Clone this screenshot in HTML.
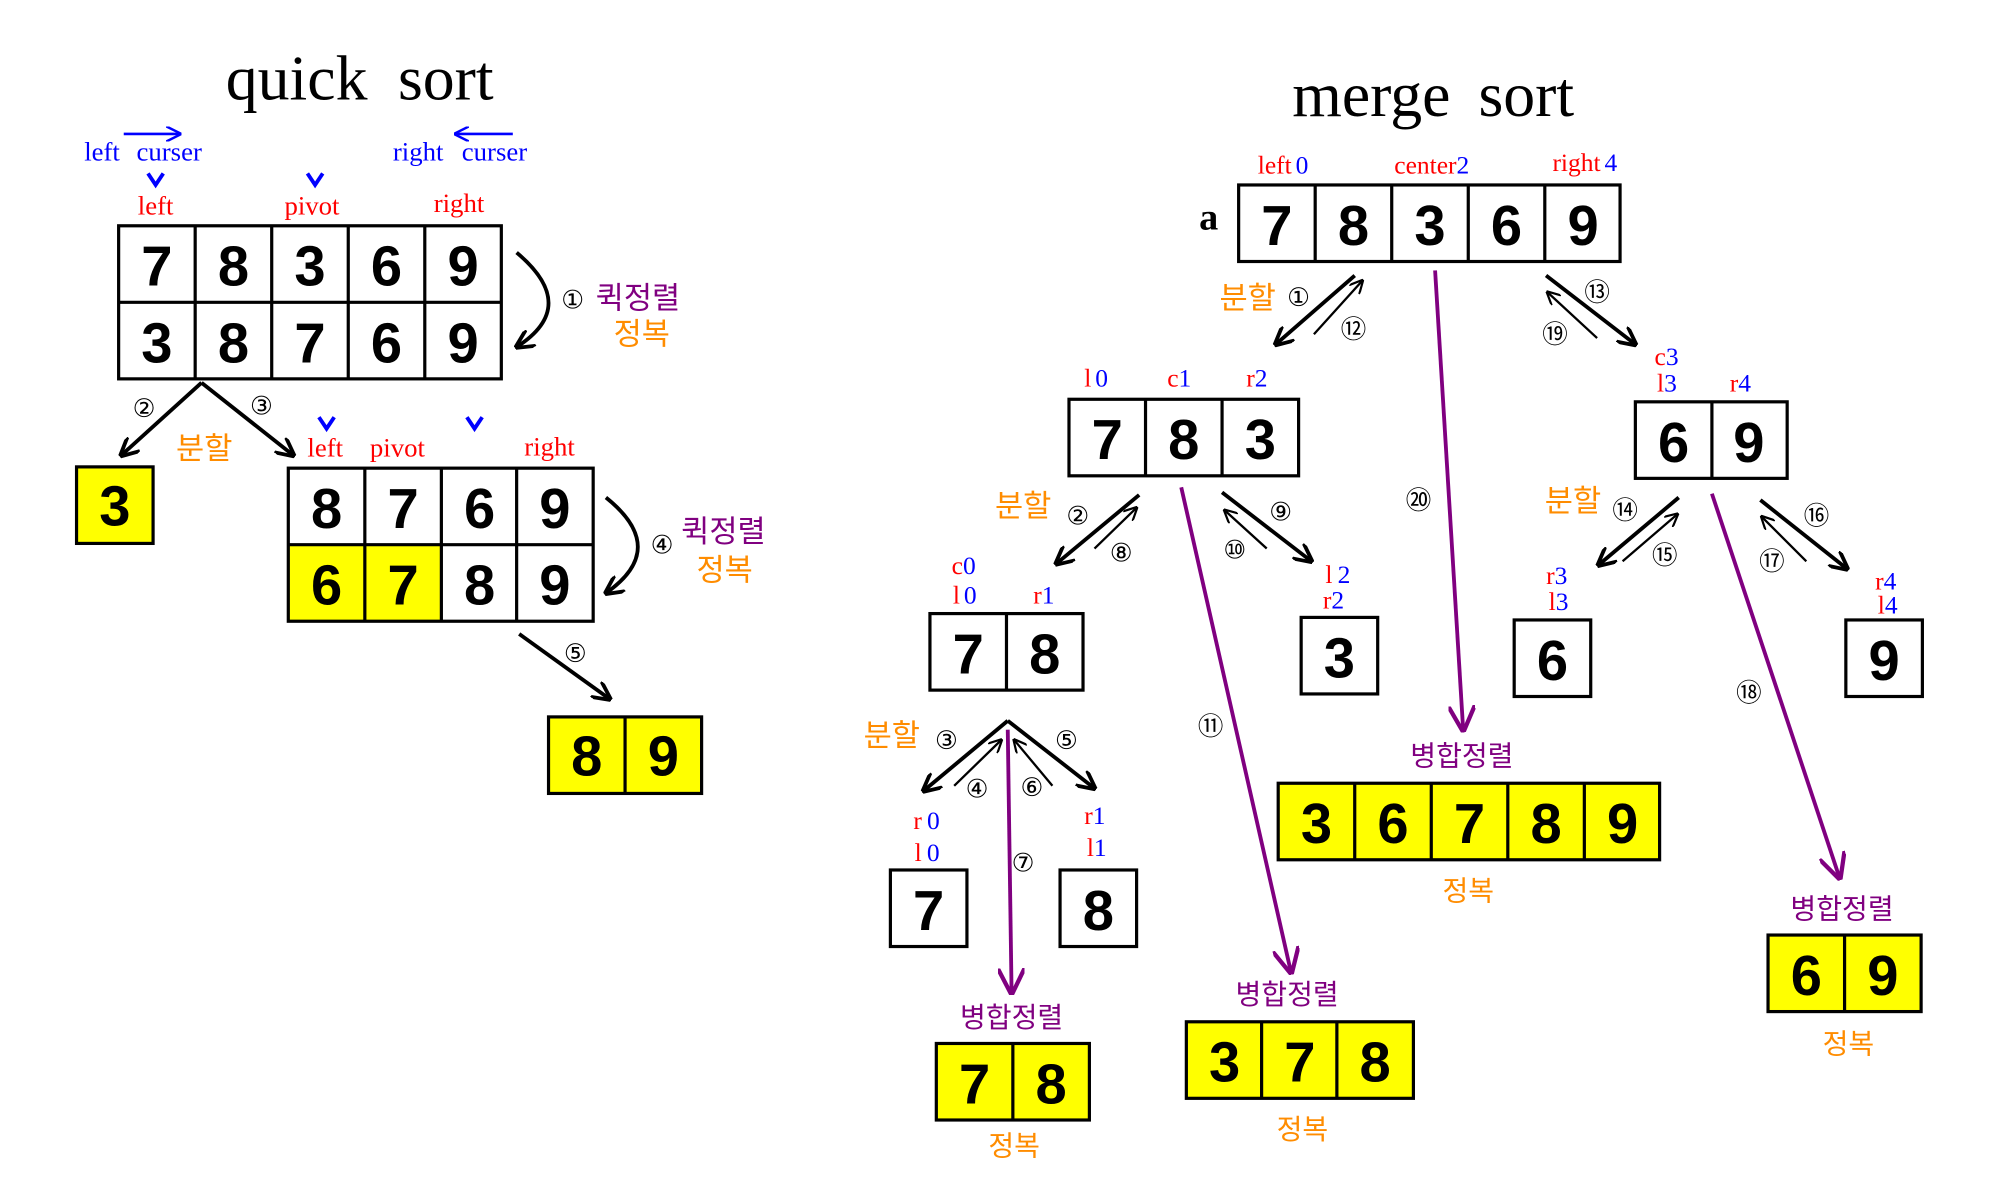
<!DOCTYPE html>
<html><head><meta charset="utf-8">
<style>
html,body{margin:0;padding:0;background:#fff;}
svg{display:block}
.t{font-family:"Liberation Serif","Noto Sans CJK KR",serif;}
.k{font-family:"Liberation Sans","Noto Sans CJK KR","NanumGothic",sans-serif;}
.c{font-family:"DejaVu Sans","Liberation Sans",sans-serif;font-size:20px;}
.d{font-family:"Liberation Sans",sans-serif;font-weight:bold;font-size:44px;text-anchor:middle;}
.r{fill:#f00}.b{fill:#00f}.o{fill:#ff8c00}.p{fill:#800080}
</style></head><body>
<svg width="1990" height="1188" viewBox="0 0 1560 931.3" xmlns="http://www.w3.org/2000/svg">
<defs>
<marker id="ah" viewBox="0 0 10 10" refX="9" refY="5" markerWidth="5" markerHeight="5" orient="auto" markerUnits="strokeWidth"><path d="M0,0 L10,5 L0,10" fill="none" stroke="#000" stroke-width="2"/></marker>
<marker id="at" viewBox="0 0 10 10" refX="9" refY="5" markerWidth="6" markerHeight="6" orient="auto" markerUnits="strokeWidth"><path d="M0,0 L10,5 L0,10" fill="none" stroke="#000" stroke-width="1.6"/></marker>
<marker id="ap" viewBox="0 0 10 10" refX="9" refY="5" markerWidth="7" markerHeight="7" orient="auto" markerUnits="strokeWidth"><path d="M0,0 L10,5 L0,10" fill="none" stroke="#800080" stroke-width="1.6"/></marker>
<marker id="ab" viewBox="0 0 10 10" refX="9" refY="5" markerWidth="6" markerHeight="6" orient="auto" markerUnits="strokeWidth"><path d="M0,0 L10,5 L0,10" fill="none" stroke="#00f" stroke-width="1.6"/></marker>
</defs>
<g stroke="#000" stroke-width="2.5" fill="none">
<rect x="93" y="177" width="300" height="120"/>
<line x1="93" y1="237" x2="393" y2="237"/>
<line x1="153" y1="177" x2="153" y2="297"/><line x1="213" y1="177" x2="213" y2="297"/><line x1="273" y1="177" x2="273" y2="297"/><line x1="333" y1="177" x2="333" y2="297"/>
<rect x="60" y="366" width="60" height="60" fill="#ff0"/>
<rect x="226" y="427" width="120" height="60" fill="#ff0" stroke="none"/>
<rect x="226" y="367" width="239" height="120"/>
<line x1="226" y1="427" x2="465" y2="427"/>
<line x1="286" y1="367" x2="286" y2="487"/><line x1="346" y1="367" x2="346" y2="487"/><line x1="405" y1="367" x2="405" y2="487"/>
<rect x="430" y="562" width="120" height="60" fill="#ff0"/><line x1="490" y1="562" x2="490" y2="622"/>
<rect x="971" y="145" width="299" height="60"/>
<line x1="1031" y1="145" x2="1031" y2="205"/><line x1="1091" y1="145" x2="1091" y2="205"/><line x1="1151" y1="145" x2="1151" y2="205"/><line x1="1211" y1="145" x2="1211" y2="205"/>
<rect x="838" y="313" width="180" height="60"/><line x1="898" y1="313" x2="898" y2="373"/><line x1="958" y1="313" x2="958" y2="373"/>
<rect x="1282" y="315" width="119" height="60"/><line x1="1342" y1="315" x2="1342" y2="375"/>
<rect x="729" y="481" width="120" height="60"/><line x1="789" y1="481" x2="789" y2="541"/>
<rect x="1020" y="484" width="60" height="60"/>
<rect x="1187" y="486" width="60" height="60"/>
<rect x="1447" y="486" width="60" height="60"/>
<rect x="698" y="682" width="60" height="60"/>
<rect x="831" y="682" width="60" height="60"/>
<rect x="1002" y="614" width="299" height="60" fill="#ff0"/><line x1="1062" y1="614" x2="1062" y2="674"/><line x1="1122" y1="614" x2="1122" y2="674"/><line x1="1182" y1="614" x2="1182" y2="674"/><line x1="1242" y1="614" x2="1242" y2="674"/>
<rect x="930" y="801" width="178" height="60" fill="#ff0"/><line x1="989" y1="801" x2="989" y2="861"/><line x1="1048" y1="801" x2="1048" y2="861"/>
<rect x="734" y="818" width="120" height="60" fill="#ff0"/><line x1="794" y1="818" x2="794" y2="878"/>
<rect x="1386" y="733" width="120" height="60" fill="#ff0"/><line x1="1446" y1="733" x2="1446" y2="793"/>
</g>
<g class="d">
<text x="123" y="224">7</text><text x="183" y="224">8</text><text x="243" y="224">3</text><text x="303" y="224">6</text><text x="363" y="224">9</text>
<text x="123" y="284">3</text><text x="183" y="284">8</text><text x="243" y="284">7</text><text x="303" y="284">6</text><text x="363" y="284">9</text>
<text x="90" y="412">3</text>
<text x="256" y="414">8</text><text x="316" y="414">7</text><text x="376" y="414">6</text><text x="435" y="414">9</text>
<text x="256" y="474">6</text><text x="316" y="474">7</text><text x="376" y="474">8</text><text x="435" y="474">9</text>
<text x="460" y="608">8</text><text x="520" y="608">9</text>
<text x="1001" y="192">7</text><text x="1061" y="192">8</text><text x="1121" y="192">3</text><text x="1181" y="192">6</text><text x="1241" y="192">9</text>
<text x="868" y="360">7</text><text x="928" y="360">8</text><text x="988" y="360">3</text>
<text x="1312" y="362">6</text><text x="1371" y="362">9</text>
<text x="759" y="528">7</text><text x="819" y="528">8</text>
<text x="1050" y="531">3</text><text x="1217" y="533">6</text><text x="1477" y="533">9</text>
<text x="728" y="729">7</text><text x="861" y="729">8</text>
<text x="1032" y="661">3</text><text x="1092" y="661">6</text><text x="1152" y="661">7</text><text x="1212" y="661">8</text><text x="1272" y="661">9</text>
<text x="960" y="848">3</text><text x="1019" y="848">7</text><text x="1078" y="848">8</text>
<text x="764" y="865">7</text><text x="824" y="865">8</text>
<text x="1416" y="780">6</text><text x="1476" y="780">9</text>
</g>
<g class="t" font-size="50">
<text x="177" y="78">quick</text><text x="312" y="78">sort</text>
<text x="1013" y="91">merge</text><text x="1159" y="91">sort</text>
</g>
<text class="t" x="940" y="180" font-size="30" font-weight="bold">a</text>
<g class="t" font-size="21">
<text class="b" x="66" y="126">left</text><text class="b" x="107" y="126">curser</text>
<text class="b" x="308" y="126">right</text><text class="b" x="362" y="126">curser</text>
<text class="r" x="108" y="168">left</text>
<text class="r" x="223" y="168">pivot</text>
<text class="r" x="340" y="166">right</text>
<text class="r" x="241" y="358">left</text>
<text class="r" x="290" y="358">pivot</text>
<text class="r" x="411" y="357">right</text>
</g>
<g stroke="#00f" stroke-width="2" fill="none">
<line x1="97" y1="105" x2="141" y2="105" marker-end="url(#ab)"/>
<line x1="402" y1="105" x2="357" y2="105" marker-end="url(#ab)"/>
<g stroke-width="3"><path d="M116,136 L122,145 L128,136"/><path d="M241,136 L247,145 L253,136"/><path d="M250,327 L256,336 L262,327"/><path d="M366,327 L372,336 L378,327"/></g>
</g>
<g stroke="#000" stroke-width="3" fill="none">
<path d="M405,198 Q455,240 405,272" marker-end="url(#ah)"/>
<path d="M475,390 Q525,430 475,465" marker-end="url(#ah)"/>
<line x1="158" y1="300" x2="95" y2="357" marker-end="url(#ah)"/>
<line x1="158" y1="300" x2="230" y2="357" marker-end="url(#ah)"/>
<line x1="407" y1="497" x2="478" y2="548" marker-end="url(#ah)"/>
<line x1="1062" y1="216" x2="1000" y2="270" marker-end="url(#ah)"/>
<line x1="1212" y1="216" x2="1282" y2="270" marker-end="url(#ah)"/>
<line x1="893" y1="388" x2="828" y2="442" marker-end="url(#ah)"/>
<line x1="958" y1="386" x2="1028" y2="440" marker-end="url(#ah)"/>
<line x1="1316" y1="390" x2="1253" y2="443" marker-end="url(#ah)"/>
<line x1="1380" y1="392" x2="1448" y2="446" marker-end="url(#ah)"/>
<line x1="790" y1="565" x2="724" y2="620" marker-end="url(#ah)"/>
<line x1="790" y1="565" x2="858" y2="618" marker-end="url(#ah)"/>
</g>
<g stroke="#000" stroke-width="1.8" fill="none">
<line x1="1030" y1="262" x2="1068" y2="220" marker-end="url(#at)"/>
<line x1="1252" y1="265" x2="1213" y2="229" marker-end="url(#at)"/>
<line x1="858" y1="430" x2="891" y2="398" marker-end="url(#at)"/>
<line x1="993" y1="430" x2="960" y2="400" marker-end="url(#at)"/>
<line x1="1272" y1="440" x2="1315" y2="403" marker-end="url(#at)"/>
<line x1="1416" y1="440" x2="1381" y2="405" marker-end="url(#at)"/>
<line x1="748" y1="616" x2="785" y2="580" marker-end="url(#at)"/>
<line x1="825" y1="616" x2="795" y2="580" marker-end="url(#at)"/>
</g>
<g stroke="#800080" stroke-width="3" fill="none">
<line x1="1125" y1="212" x2="1147" y2="572" marker-end="url(#ap)"/>
<line x1="926" y1="382" x2="1012" y2="762" marker-end="url(#ap)"/>
<line x1="1342" y1="387" x2="1442" y2="688" marker-end="url(#ap)"/>
<line x1="790" y1="572" x2="793" y2="778" marker-end="url(#ap)"/>
</g>
<g class="c">
<text x="440" y="242">①</text><text x="104" y="327">②</text><text x="196" y="325">③</text><text x="510" y="434">④</text><text x="442" y="519">⑤</text>
<text x="1009" y="240">①</text><text x="1051" y="265">⑫</text><text x="1242" y="236">⑬</text><text x="1209" y="269">⑲</text>
<text x="1102" y="399">⑳</text><text x="836" y="411">②</text><text x="870" y="440">⑧</text><text x="995" y="408">⑨</text><text x="959" y="438">⑩</text>
<text x="939" y="576">⑪</text><text x="1264" y="407">⑭</text><text x="1295" y="442">⑮</text><text x="1414" y="411">⑯</text><text x="1379" y="447">⑰</text><text x="1361" y="550">⑱</text>
<text x="733" y="587">③</text><text x="827" y="587">⑤</text><text x="757" y="625">④</text><text x="800" y="624">⑥</text><text x="793" y="683">⑦</text>
</g>
<g class="k" font-size="24">
<text class="p" x="467" y="242">퀵정렬</text><text class="o" x="481" y="270">정복</text>
<text class="p" x="534" y="425">퀵정렬</text><text class="o" x="546" y="455">정복</text>
<text class="o" x="138" y="360">분할</text>
<text class="o" x="956" y="242">분할</text>
<text class="o" x="780" y="405">분할</text>
<text class="o" x="1211" y="401">분할</text>
<text class="o" x="677" y="585">분할</text>
</g>
<g class="k" font-size="22" text-anchor="middle">
<text class="p" x="793" y="805">병합정렬</text><text class="o" x="795" y="906">정복</text>
<text class="p" x="1009" y="787">병합정렬</text><text class="o" x="1021" y="893">정복</text>
<text class="p" x="1146" y="600">병합정렬</text><text class="o" x="1151" y="706">정복</text>
<text class="p" x="1444" y="720">병합정렬</text><text class="o" x="1449" y="826">정복</text>
</g>
<g class="t" font-size="20">
<text x="986" y="136"><tspan class="r">left</tspan><tspan class="b" dx="3">0</tspan></text>
<text x="1093" y="136"><tspan class="r">center</tspan><tspan class="b">2</tspan></text>
<text x="1217" y="134"><tspan class="r">right</tspan><tspan class="b" dx="3">4</tspan></text>
<text x="850" y="303"><tspan class="r">l</tspan><tspan class="b" dx="3">0</tspan></text>
<text x="915" y="303"><tspan class="r">c</tspan><tspan class="b">1</tspan></text>
<text x="977" y="303"><tspan class="r">r</tspan><tspan class="b">2</tspan></text>
<text x="1297" y="286"><tspan class="r">c</tspan><tspan class="b">3</tspan></text>
<text x="1299" y="307"><tspan class="r">l</tspan><tspan class="b">3</tspan></text>
<text x="1356" y="307"><tspan class="r">r</tspan><tspan class="b">4</tspan></text>
<text x="746" y="450"><tspan class="r">c</tspan><tspan class="b">0</tspan></text>
<text x="747" y="473"><tspan class="r">l</tspan><tspan class="b" dx="3">0</tspan></text>
<text x="810" y="473"><tspan class="r">r</tspan><tspan class="b">1</tspan></text>
<text x="1039" y="457"><tspan class="r">l</tspan><tspan class="b" dx="4">2</tspan></text>
<text x="1037" y="477"><tspan class="r">r</tspan><tspan class="b">2</tspan></text>
<text x="1212" y="458"><tspan class="r">r</tspan><tspan class="b">3</tspan></text>
<text x="1214" y="478"><tspan class="r">l</tspan><tspan class="b">3</tspan></text>
<text x="1470" y="462"><tspan class="r">r</tspan><tspan class="b">4</tspan></text>
<text x="1472" y="481"><tspan class="r">l</tspan><tspan class="b">4</tspan></text>
<text x="716" y="650"><tspan class="r">r</tspan><tspan class="b" dx="4">0</tspan></text>
<text x="717" y="675"><tspan class="r">l</tspan><tspan class="b" dx="4">0</tspan></text>
<text x="850" y="646"><tspan class="r">r</tspan><tspan class="b">1</tspan></text>
<text x="852" y="671"><tspan class="r">l</tspan><tspan class="b">1</tspan></text>
</g>
</svg>
</body></html>
